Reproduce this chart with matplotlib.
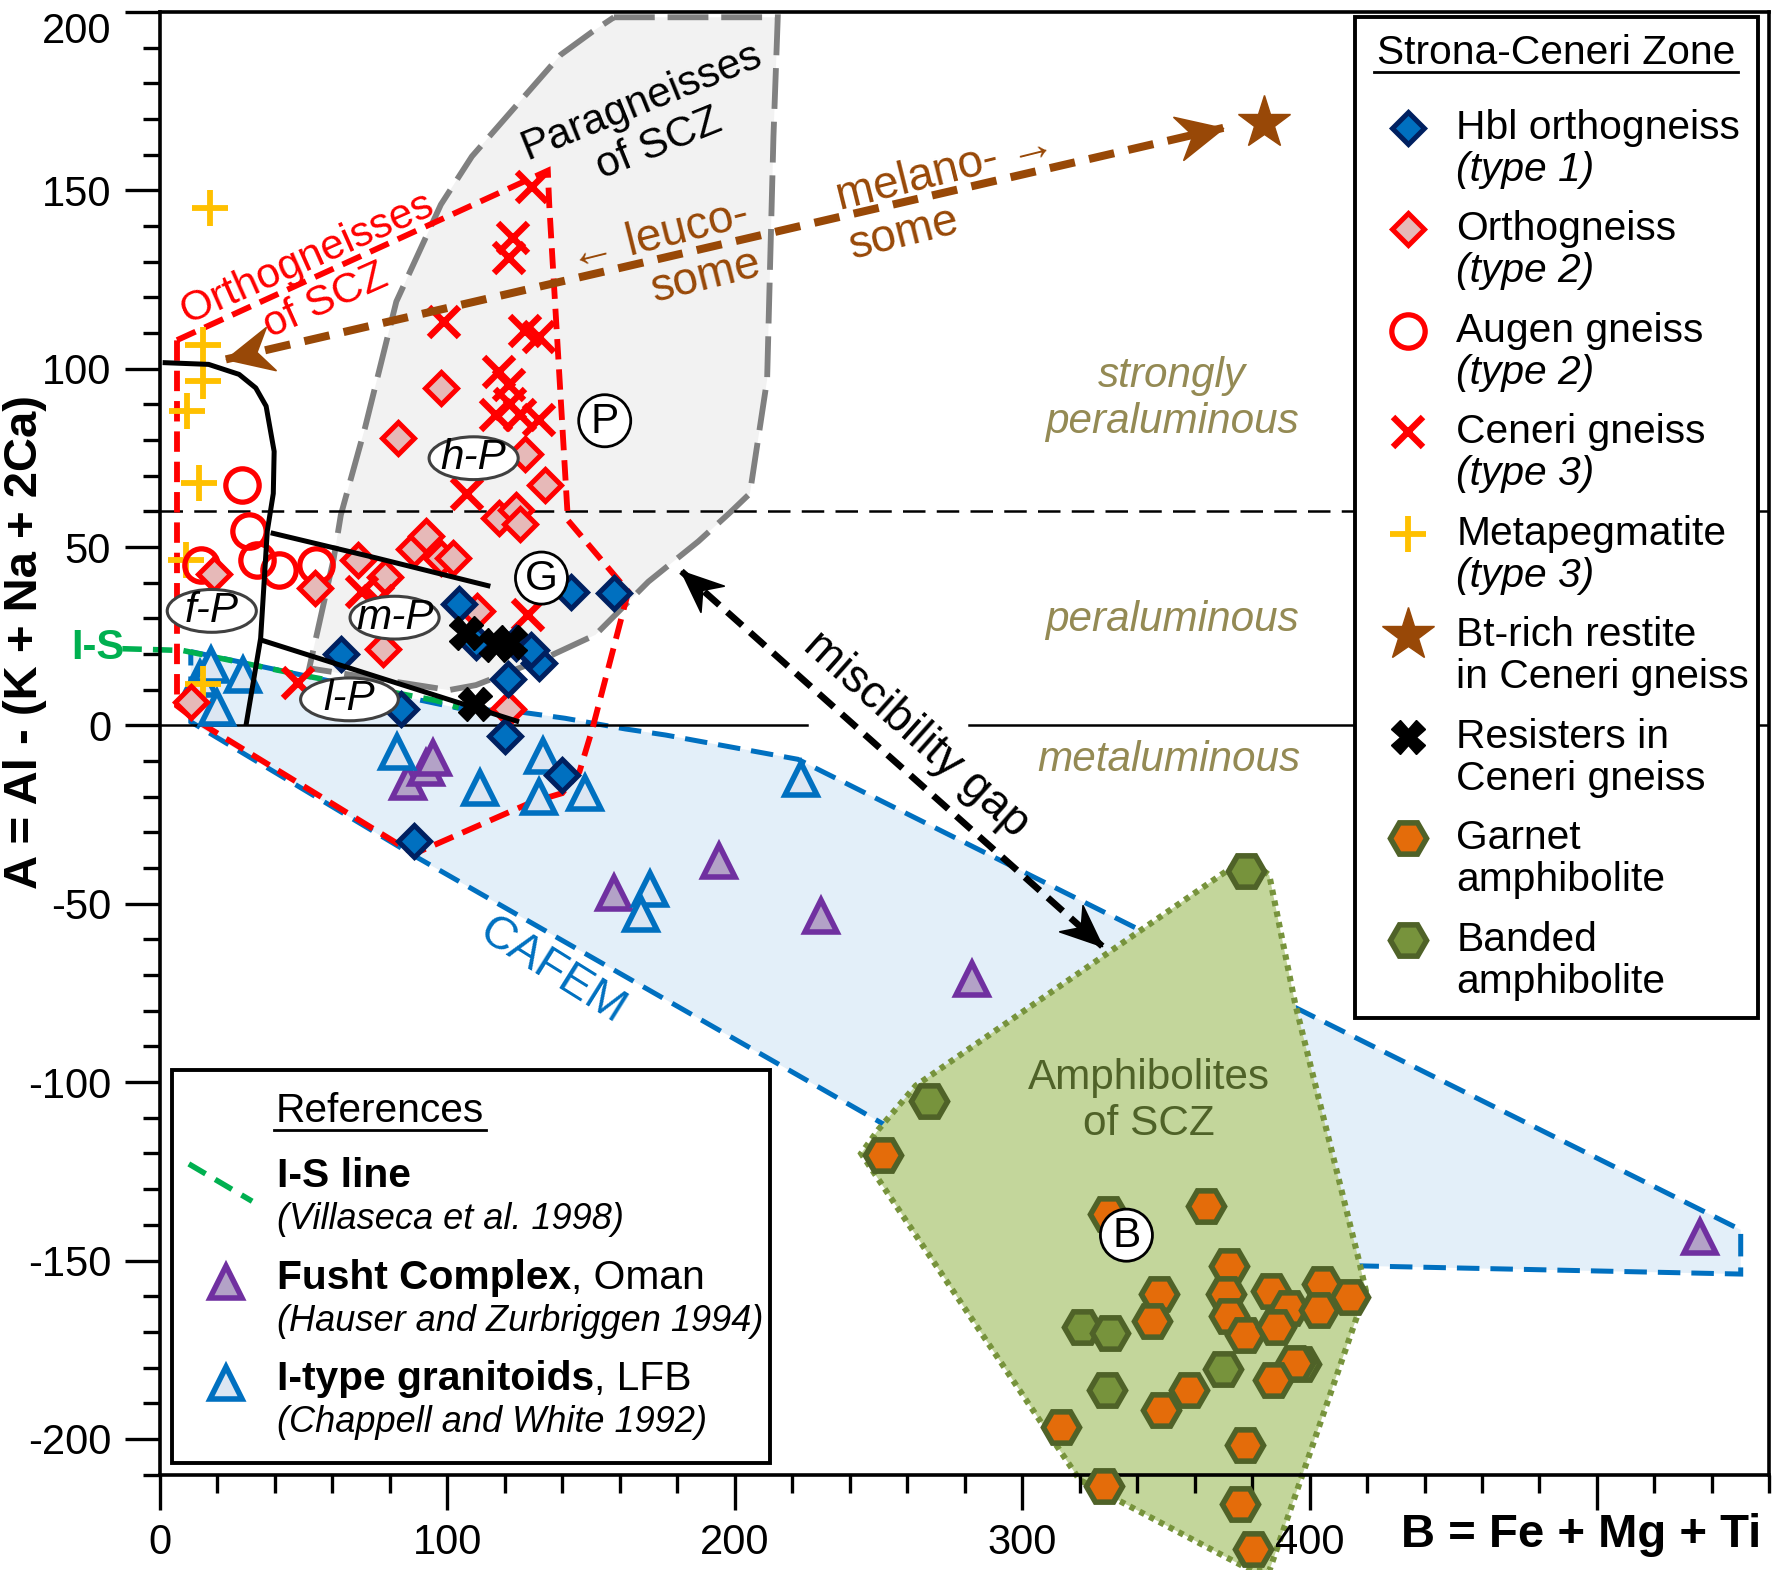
import numpy as np
import matplotlib.pyplot as plt
from matplotlib.patches import Polygon, Ellipse, Rectangle
from matplotlib.lines import Line2D
from matplotlib.path import Path
from matplotlib.markers import MarkerStyle
from matplotlib.transforms import Affine2D

plt.rcParams['font.family'] = ['Liberation Sans', 'DejaVu Sans']
plt.rcParams['axes.unicode_minus'] = False

# ---- data ----
hbl_x = [104, 143, 158, 110, 124, 132, 129, 121, 84, 63, 120, 140, 88.5]
hbl_y = [34, 37.5, 37, 23.5, 23, 17.5, 21, 13, 4.5, 20, -3, -14, -32.5]

ortho_x = [11, 19, 54, 69, 78.5, 77.5, 88.5, 92.5, 98, 83, 98, 102, 110.5, 118, 124, 125.5, 127, 134, 121]
ortho_y = [6.5, 42.5, 38.5, 46.5, 41.5, 21.5, 49.5, 53, 47, 80.5, 94.5, 47, 32, 58, 60.5, 56.5, 76, 67.5, 4.5]

augen_x = [28.5, 31, 14.5, 34, 41.5, 54.5]
augen_y = [67.5, 54.5, 45, 46.5, 43.5, 45]

ceneri_x = [129.5, 123, 121.5, 99, 127, 132, 118, 121.5, 117, 122, 125.5, 132, 107, 128, 70.5, 76, 48]
ceneri_y = [151, 136.5, 131, 113, 110.5, 109, 99, 95.5, 87, 90, 87, 85.5, 65, 31, 37.5, 35, 12]

pegm_x = [17.5, 15, 15, 9.5, 13.5, 9, 15]
pegm_y = [145, 106.5, 96.5, 88, 68, 46.5, 11.5]

restite_x = [384]
restite_y = [169]

resist_x = [106.5, 117, 122, 109.5]
resist_y = [26, 22.5, 23.5, 6]

fusht_x = [86.5, 92.8, 95.2, 158, 194.5, 230, 282.5, 536]
fusht_y = [-16, -12, -9, -47, -38, -53.5, -71, -143.5]

itype_x = [14, 18, 29, 20, 82.5, 111.5, 133.5, 132, 148, 223, 170.5, 167.5]
itype_y = [13, 17, 14, 5, -7.5, -17.5, -8.5, -20, -19, -15, -46, -53]

garnet_x = [251.7, 330, 364, 372, 371, 372, 377.5, 386.5, 393, 388.3, 404.5, 403.4, 414.2,
            347.8, 345.1, 358.1, 348.4, 394.8, 387.2, 313.5, 377.5, 328.5, 375.8, 380.3]
garnet_y = [-120.4, -137, -134.8, -151.5, -159.3, -165.5, -171, -158.5, -163.2, -168.6, -156.7, -164, -160.1,
            -159.3, -167, -186.2, -192, -178.8, -183.5, -196.7, -201.8, -213.1, -218.2, -231]

banded_x = [378, 267.5, 320.8, 330.7, 369.9, 329.4, 397]
banded_y = [-40.9, -105.2, -168.6, -170.2, -180.3, -186.2, -179]

# fields
para_field = [(158, 198.5), (215, 198.5), (213.5, 165), (212.3, 128), (211.3, 97), (205.3, 65),
              (198.3, 59.6), (187.4, 51.6), (170, 40.3), (158.5, 31), (151.6, 25.4), (135.3, 19.3),
              (110, 11.3), (100.6, 9.9), (52, 16), (60.5, 46.7), (63, 59), (71.4, 83.4),
              (82.3, 118.8), (97.8, 146), (108.6, 159.5), (139.5, 188), (150.4, 194.4)]
ortho_field = [(6, 108), (135, 155.5), (135.5, 146), (142, 57.5), (163, 37.5), (150.5, -1),
               (146, -13), (140, -19), (129.5, -21.5), (88.5, -36), (12.5, 1.5), (6, 5.5)]
cafem_field = [(10.8, 20.7), (104, 4.8), (125, 3.8), (141, 2), (162, -1), (176, -2.7), (222, -9.5),
               (550, -141.4), (550, -153.8), (417.4, -151.5), (251.4, -111.6), (88, -36.3), (10.8, 1)]
amph_field = [(378, -37), (386, -42), (395, -78), (417.4, -150.7), (419.6, -158.5), (386, -237),
              (380, -237), (320, -211.5), (244, -120), (250, -113.3), (263, -101)]

# boundaries of the Villaseca subdivision
fp_x = [1, 17, 27.6, 33.4, 37, 39.8, 39.5, 37.4, 35.1, 30]
fp_y = [101.7, 101.2, 98.4, 94.6, 89.5, 76.8, 65, 54.4, 24.4, 0]
mp_x = [38.6, 75, 115]
mp_y = [54, 47, 39]
lp_x = [35, 125]
lp_y = [24, 1]
is_x = [-13, 8, 50, 96, 104]
is_y = [21.5, 21, 14, 7, 5]

# arrow end points
leuco_end = (23, 102.6)
melano_end = (370, 167.5)
gap_top = (181.5, 43.2)
gap_bottom = (327.9, -61.9)

# ---- styles ----
FS = 15.2
BROWN = '#984807'
OLIVE_T = '#948a54'
sty = {
    'hbl': dict(marker='D', ms=8, mfc='#0070c0', mec='#002060', mew=1.8),
    'ortho': dict(marker='D', ms=8, mfc='#e6b9b8', mec='#ff0000', mew=1.8),
    'augen': dict(marker='o', ms=12, mfc='none', mec='#ff0000', mew=1.9),
    'ceneri': dict(marker='x', ms=11, mec='#ff0000', mew=2.3),
    'pegm': dict(marker='+', ms=13, mec='#ffc000', mew=2.1),
    'restite': dict(marker='*', ms=20, mfc=BROWN, mec=BROWN, mew=0.5),
    'resist': dict(marker='X', ms=12, mfc='black', mec='black', mew=0.5),
    'garnet': dict(marker='H', ms=13, mfc='#e46c0a', mec='#4f6228', mew=2),
    'banded': dict(marker='H', ms=13, mfc='#77933c', mec='#4f6228', mew=2),
    'fusht': dict(marker='^', ms=11.5, mfc='#b3a2c7', mec='#7030a0', mew=2),
    'itype': dict(marker='^', ms=11.5, mfc='#dce6f2', mec='#0070c0', mew=2),
}

fig = plt.figure(figsize=(8.865, 7.85), dpi=200)
ax = fig.add_axes([0.0901, 0.0608, 0.9079, 0.9316])
ax.set_xlim(0, 560)
ax.set_ylim(-210, 200)
ax.set_axisbelow(False)

# fields
ax.add_patch(Polygon(cafem_field, closed=True, fc='#e3eff9', ec='#0070c0', lw=1.8,
                     ls=(0, (4.5, 2.2)), zorder=1))
ax.add_patch(Polygon(para_field, closed=True, fc='#f2f2f2', ec='#808080', lw=2.1,
                     ls=(0, (7, 2.2)), zorder=1.1))
ax.add_patch(Polygon(ortho_field, closed=True, fill=False, ec='#ff0000', lw=2.1,
                     ls=(0, (3.5, 1.7)), zorder=1.6))
ax.add_patch(Polygon(amph_field, closed=True, fc='#c3d69b', ec='#77933c', lw=2.2,
                     ls=(0, (0.9, 0.9)), zorder=2.2, clip_on=False))

# reference lines
ax.plot([0, 560], [60, 60], color='black', lw=0.9, ls=(0, (9, 4.5)), zorder=1.3)
ax.plot([0, 225], [0, 0], color='black', lw=0.9, zorder=1.3)
ax.plot([281.5, 560], [0, 0], color='black', lw=0.9, zorder=1.3)
ax.plot(is_x, is_y, color='#00b050', lw=2.0, ls=(0, (3.5, 2)), zorder=1.7, clip_on=False)
ax.text(-21.5, 21.6, 'I-S', color='#00b050', fontsize=15, fontweight='bold',
        ha='center', va='center', clip_on=False)

# samples
ax.plot(fusht_x, fusht_y, ls='none', zorder=3, **sty['fusht'])
ax.plot(itype_x, itype_y, ls='none', zorder=3.05, **sty['itype'])
ax.plot(pegm_x, pegm_y, ls='none', zorder=3.1, **sty['pegm'])
ax.plot(augen_x, augen_y, ls='none', zorder=3.2, **sty['augen'])
ax.plot(ortho_x, ortho_y, ls='none', zorder=3.3, **sty['ortho'])
ax.plot(ceneri_x, ceneri_y, ls='none', zorder=3.4, **sty['ceneri'])
ax.plot(hbl_x, hbl_y, ls='none', zorder=3.5, **sty['hbl'])
ax.plot(resist_x, resist_y, ls='none', zorder=3.6, **sty['resist'])
ax.plot(restite_x, restite_y, ls='none', zorder=3.6, **sty['restite'])
ax.plot(banded_x, banded_y, ls='none', zorder=4, clip_on=False, **sty['banded'])
ax.plot(garnet_x, garnet_y, ls='none', zorder=4.1, clip_on=False, **sty['garnet'])

# Villaseca boundaries
for bx, by in [(fp_x, fp_y), (mp_x, mp_y), (lp_x, lp_y)]:
    ax.plot(bx, by, color='black', lw=1.8, zorder=3.8, solid_capstyle='butt')


# dashed double arrows with stealth heads
def stealth(half_w):
    return Path([(0, 0), (-1, half_w), (-0.68, 0), (-1, -half_w), (0, 0)], closed=True)


def double_arrow(p0, p1, color, lw, dash, ms, half_w, zorder):
    ax.plot([p0[0], p1[0]], [p0[1], p1[1]], color=color, lw=lw, ls=dash,
            dash_capstyle='butt', zorder=zorder)
    d0 = ax.transData.transform(p0)
    d1 = ax.transData.transform(p1)
    for tip, dt, do in [(p0, d0, d1), (p1, d1, d0)]:
        ang = np.degrees(np.arctan2(dt[1] - do[1], dt[0] - do[0]))
        m = MarkerStyle(stealth(half_w), transform=Affine2D().rotate_deg(ang))
        ax.plot([tip[0]], [tip[1]], ls='none', marker=m, ms=ms, mfc=color, mec=color,
                mew=0.6, zorder=zorder + 0.01)


double_arrow(leuco_end, melano_end, BROWN, 2.9, (0, (3.2, 1.8)), 33, 0.48, 3.9)
double_arrow(gap_top, gap_bottom, 'black', 2.4, (0, (3, 1.6)), 30, 0.42, 3.9)

# field names
ax.text(170.7, 169, 'Paragneisses\nof SCZ', fontsize=FS, rotation=22, ha='center', va='center',
        rotation_mode='anchor', zorder=6)
ax.text(54.6, 124.9, 'Orthogneisses\nof SCZ', fontsize=FS, color='#ff0000', rotation=24,
        ha='center', va='center', rotation_mode='anchor', zorder=6)
ax.text(175.9, 130.2, '\u2190 leuco-\nsome', fontsize=16.5, color=BROWN, rotation=14,
        ha='center', va='center', multialignment='right', rotation_mode='anchor', zorder=6)
ax.text(275.8, 148.4, 'melano- \u2192\nsome', fontsize=16.5, color=BROWN, rotation=14,
        ha='center', va='center', multialignment='left', rotation_mode='anchor', zorder=6)
ax.text(352, 91.4, 'strongly\nperaluminous', fontsize=FS, color=OLIVE_T, style='italic',
        ha='center', va='center', zorder=6)
ax.text(352, 29.5, 'peraluminous', fontsize=FS, color=OLIVE_T, style='italic',
        ha='center', va='center', zorder=6)
ax.text(351, -9.8, 'metaluminous', fontsize=FS, color=OLIVE_T, style='italic',
        ha='center', va='center', zorder=6)
ax.text(263.3, -2.5, 'miscibility gap', fontsize=16.5, rotation=-41.7, ha='center', va='center',
        rotation_mode='anchor', zorder=6)
ax.text(136.7, -68.9, 'CAFEM', fontsize=16.8, color='#0070c0', rotation=-32, ha='center',
        va='center', rotation_mode='anchor', zorder=6)
ax.text(344.2, -105.4, 'Amphibolites\nof SCZ', fontsize=15.2, color='#4f6228', ha='center',
        va='center', zorder=6)

# circled letters
for lab, lx, ly in [('P', 154.8, 85.4), ('G', 132.8, 41.3), ('B', 336.3, -142.9)]:
    ax.add_patch(Ellipse((lx, ly), 18.1, 14.6, fc='white', ec='black', lw=1.0, zorder=6))
    ax.text(lx, ly - 0.3, lab, fontsize=FS, ha='center', va='center', zorder=6.1)

# ellipse labels
for lab, lx, ly, w in [('h-P', 109.2, 74.9, 31), ('m-P', 81.7, 30.2, 31),
                       ('f-P', 18.1, 32.1, 31), ('l-P', 66, 7.3, 34)]:
    ax.add_patch(Ellipse((lx, ly), w, 12, fc='white', ec='#404040', lw=1.1, zorder=6))
    ax.text(lx, ly, lab, fontsize=FS, style='italic', ha='center', va='center', zorder=6.1)

# axes cosmetics
ax.set_xticks([0, 100, 200, 300, 400, 500])
ax.set_xticklabels(['0', '100', '200', '300', '400', ''])
ax.set_xticks(range(0, 561, 20), minor=True)
ax.set_yticks(range(-200, 201, 50))
ax.set_yticks(range(-210, 201, 10), minor=True)
ax.tick_params(which='major', direction='out', length=12.5, width=1.2, labelsize=15, pad=5)
ax.tick_params(which='minor', direction='out', length=6.3, width=1.2)
for sp in ax.spines.values():
    sp.set_linewidth(1.3)
ax.get_yticklabels()[-1].set_verticalalignment('top')

fig.text(0.014, 0.591, 'A = Al - (K + Na + 2Ca)', rotation=90, fontsize=17, fontweight='bold',
         ha='center', va='center')
fig.text(0.9936, 0.0223, 'B = Fe + Mg + Ti', fontsize=17, fontweight='bold',
         ha='right', va='center')


# ---- legends (drawn by hand, positions in figure fraction) ----
def fp(xs, ys):
    return xs / 1568, 1 - ys / 1388


tf = fig.transFigure
LFS = 14.7

x0, y0 = fp(1198, 900)
x1, y1 = fp(1555, 15)
ax.add_patch(Rectangle((x0, y0), x1 - x0, y1 - y0, transform=tf, fc='white', ec='black',
                       lw=1.4, zorder=20, clip_on=False))
tx, ty = fp(1376, 47)
ax.text(tx, ty, 'Strona-Ceneri Zone', transform=tf, fontsize=LFS, ha='center', va='center', zorder=21)
ua, ub = fp(1215, 64)
uc, _ = fp(1537, 64)
ax.add_line(Line2D([ua, uc], [ub, ub], transform=tf, color='black', lw=1.0, zorder=21, clip_on=False))

scz_keys = ['hbl', 'ortho', 'augen', 'ceneri', 'pegm', 'restite', 'resist', 'garnet', 'banded']
scz_line1 = ['Hbl orthogneiss', 'Orthogneiss', 'Augen gneiss', 'Ceneri gneiss', 'Metapegmatite',
             'Bt-rich restite', 'Resisters in', 'Garnet', 'Banded']
scz_line2 = ['(type 1)', '(type 2)', '(type 2)', '(type 3)', '(type 3)',
             'in Ceneri gneiss', 'Ceneri gneiss', 'amphibolite', 'amphibolite']
scz_italic = [True, True, True, True, True, False, False, False, False]
for i, key in enumerate(scz_keys):
    yy = 113 + 89.75 * i
    mx, my = fp(1245, yy)
    ax.plot([mx], [my], transform=tf, ls='none', clip_on=False, zorder=21, **sty[key])
    lx, ly = fp(1288, yy)
    ax.text(lx, ly, scz_line1[i], transform=tf, fontsize=LFS, ha='left', va='center', zorder=21)
    lx, ly = fp(1288, yy + 37)
    ax.text(lx, ly, scz_line2[i], transform=tf, fontsize=LFS, ha='left', va='center', zorder=21,
            style='italic' if scz_italic[i] else 'normal')

x0, y0 = fp(152, 1293)
x1, y1 = fp(681, 946)
ax.add_patch(Rectangle((x0, y0), x1 - x0, y1 - y0, transform=tf, fc='white', ec='black',
                       lw=1.4, zorder=20, clip_on=False))
tx, ty = fp(336, 982)
ax.text(tx, ty, 'References', transform=tf, fontsize=LFS, ha='center', va='center', zorder=21)
ua, ub = fp(242, 999)
uc, _ = fp(430, 999)
ax.add_line(Line2D([ua, uc], [ub, ub], transform=tf, color='black', lw=1.0, zorder=21, clip_on=False))

ga, gb = fp(167, 1029)
gc, gd = fp(223, 1062)
ax.add_line(Line2D([ga, gc], [gb, gd], transform=tf, color='#00b050', lw=2.0, ls=(0, (3.5, 2)),
                   zorder=21, clip_on=False))
ref_bold = ['I-S line', 'Fusht Complex', 'I-type granitoids']
ref_rest = ['', ', Oman', ', LFB']
ref_line2 = ['(Villaseca et al. 1998)', '(Hauser and Zurbriggen 1994)', '(Chappell and White 1992)']
ref_keys = [None, 'fusht', 'itype']
for i in range(3):
    yy = 1040 + 89.5 * i
    if ref_keys[i]:
        mx, my = fp(200, yy + 4)
        ax.plot([mx], [my], transform=tf, ls='none', clip_on=False, zorder=21, **sty[ref_keys[i]])
    lx, ly = fp(245, yy)
    tb = ax.text(lx, ly, ref_bold[i], transform=tf, fontsize=LFS, fontweight='bold', ha='left',
                 va='center', zorder=21)
    if ref_rest[i]:
        ax.annotate(ref_rest[i], xy=(1, 0), xycoords=tb, fontsize=LFS, ha='left', va='bottom',
                    zorder=21)
    lx, ly = fp(245, yy + 38.5)
    ax.text(lx, ly, ref_line2[i], transform=tf, fontsize=13, style='italic', ha='left',
            va='center', zorder=21)

fig.savefig('out.png', dpi=200)
